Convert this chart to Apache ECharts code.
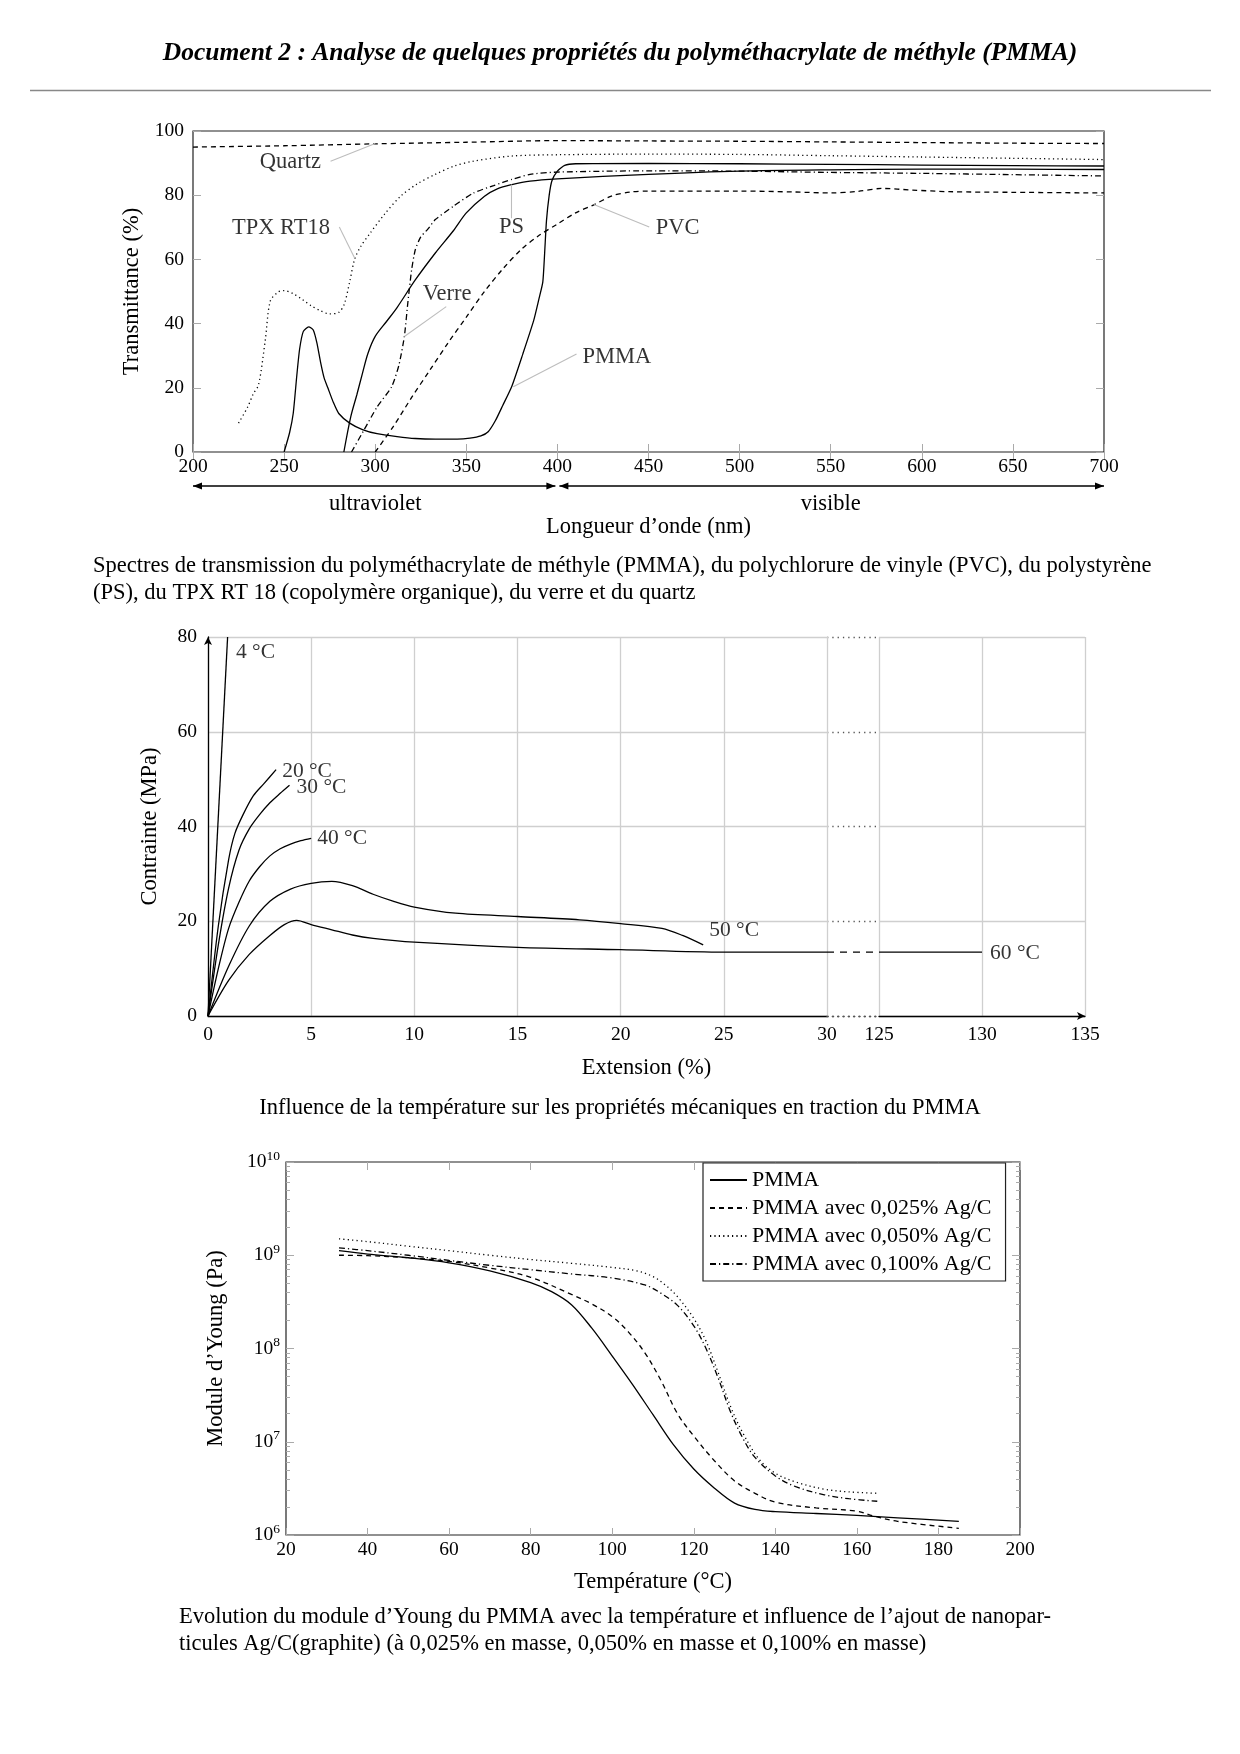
<!DOCTYPE html>
<html><head><meta charset="utf-8">
<script src="https://cdn.jsdelivr.net/npm/echarts@6/dist/echarts.min.js"></script>
<style>html,body{margin:0;padding:0;background:#fff}#c{width:1240px;height:1754px}</style>
</head><body><div id="c"></div>
<script>
// ================= Chart 1 : transmission spectra =================
const wlTicks = [200, 250, 300, 350, 400, 450, 500, 550, 600, 650, 700];
const quartz = [[200,95],[250,95.4],[300,96],[350,96.5],[400,97],[450,96.9],[500,96.8],[550,96.6],[600,96.4],[650,96.2],[700,96.1]];
const tpx = [[225,9],[230,14],[233,18],[236,21],[239.7,35],[242.4,47],[246.6,49.8],[250,50.3],[255,49.3],[260,47.5],[265,45.5],[270,44],[275,43],[280,43.5],[283,46],[286,53],[288.7,60],[292,64],[297,68],[305,74],[314,79.7],[323,83.5],[333,86.5],[343,89],[354,90.6],[375,92.2],[400,92.6],[450,92.8],[500,92.7],[550,92.3],[600,91.9],[650,91.5],[700,91.1]];
const pmmaT = [[250,0],[253,6],[255,12],[257,24],[258.5,32],[260.5,37.5],[263.5,39],[266,38],[268,34],[270,28],[272,23],[274,20],[277,15.5],[280,12],[286,9],[293,7],[301,5.7],[312,4.8],[322,4.2],[333,4],[345,4],[352,4.3],[358,5],[362,6.3],[366,9.8],[370,14.5],[375,20.5],[381,30.5],[387,41],[390,48],[392,53],[393,62],[394,72],[395.5,80],[397,84.5],[400,87.5],[404,89.3],[410,89.8],[450,89.9],[500,89.8],[550,89.6],[600,89.4],[650,89.2],[700,89.1]];
const psT = [[282.8,0],[286.6,11],[290,18],[293,24.5],[296,30.7],[300,36],[306,40.5],[312,45],[322,53.6],[333,62],[343,69],[350,74.5],[360,79.7],[367,82],[375,83.3],[385,84.4],[400,85.1],[450,86.5],[500,87.5],[550,87.9],[600,88.1],[650,88.1],[700,88]];
const verreT = [[287,0],[294,7],[301,14],[309,20.3],[313,27],[316,36],[318,47],[320,56.8],[322,63],[325,67],[329,69.5],[333,72.4],[343,76.6],[354,80.7],[365,83],[375,84.9],[385,86.5],[400,87.2],[450,87.6],[500,87.5],[550,87.1],[600,86.8],[650,86.4],[700,86]];
const pvcT = [[300,0],[310,8],[320,17],[330,25.5],[340,34],[350,42],[360,50],[370,57],[380,63],[390,67.5],[400,71],[410,74.5],[420,77],[430,79.8],[440,81],[450,81.3],[500,81.3],[530,81],[550,80.7],[565,81.2],[578,82.1],[595,81.6],[615,81.1],[650,80.9],[700,80.7]];
// annotations: [text, textX, textY, leaderFromX, leaderFromY, leaderToX, leaderToY]
const specNotes = [
  ['Quartz', 253.4, 90.3, 275.5, 90.6, 300, 96.1],
  ['TPX RT18', 248.3, 69.8, 280.3, 70.1, 288.7, 60.4],
  ['PS', 374.8, 70.1, 374.8, 72.8, 374.8, 83.3],
  ['PVC', 466, 69.8, 450.4, 70.1, 420, 77.1],
  ['Verre', 339.5, 49.3, 339, 45.3, 316, 36],
  ['PMMA', 432.6, 29.5, 410.5, 30.5, 375.8, 20.3]
];

// ================= Chart 2 : stress-strain =================
const extTicksLeft = [0, 5, 10, 15, 20, 25, 30];
const extTicksRight = [125, 130, 135];
const c4 = [[0,0],[0.95,80]];
const c20 = [[0,0],[0.5,19],[1,33],[1.3,38.5],[1.7,42.5],[2.2,46.5],[2.7,49],[3.3,52]];
const c30 = [[0,0],[0.5,15],[1,27],[1.5,35],[2,39.5],[2.5,42.5],[3,45],[3.5,47],[3.95,48.7]];
const c40 = [[0,0],[0.5,10],[1,18.5],[1.5,24],[2,28.5],[2.5,31.5],[3,33.8],[3.5,35.3],[4,36.3],[4.5,37],[5,37.5]];
const c50 = [[0,0],[1,10.5],[2,19],[3,24.2],[4,26.8],[5,28],[6,28.4],[7,27.5],[8,25.7],[9,24.2],[10,23],[12,21.7],[15,21],[18,20.3],[20,19.5],[22,18.5],[23,17],[24,15]];
const c60 = [[0,0],[1,7.5],[2,13],[3,17],[3.7,19.3],[4.3,20.2],[5,19.3],[6,18.2],[7,17.1],[8,16.4],[10,15.6],[15,14.5],[20,14],[25,13.5],[30,13.5],[125,13.5],[130,13.5]];
const tempLabels = [['4 °C',2.3,76.7],['20 °C',4.8,51.7],['30 °C',5.5,48.2],['40 °C',6.5,37.4],['50 °C',25.5,18]];
const tempLabelsRight = [['60 °C',131.6,13.2]];

// ================= Chart 3 : Young's modulus =================
const tempTicks = [20, 40, 60, 80, 100, 120, 140, 160, 180, 200];
const decades = [6, 7, 8, 9];
const minorMult = [2, 3, 4, 5, 6, 7, 8, 9];
const youngNames = ['PMMA', 'PMMA avec 0,025% Ag/C', 'PMMA avec 0,050% Ag/C', 'PMMA avec 0,100% Ag/C'];
const yPMMA = [[33,1.12e9],[40,1.03e9],[50,9.4e8],[60,8.3e8],[70,6.8e8],[80,5.1e8],[85,4.1e8],[90,2.95e8],[95,1.65e8],[100,8.3e7],[105,4.1e7],[110,1.95e7],[115,9.3e6],[120,5.1e6],[125,3.2e6],[130,2.2e6],[135,1.88e6],[140,1.78e6],[150,1.7e6],[160,1.62e6],[170,1.53e6],[185,1.4e6]];
const y025 = [[33,1e9],[40,9.9e8],[50,9.4e8],[60,8.6e8],[70,7.3e8],[80,5.8e8],[90,3.8e8],[95,3e8],[100,2.2e8],[104,1.5e8],[108,9e7],[112,4.5e7],[116,2e7],[120,1.15e7],[125,6.3e6],[130,3.8e6],[135,2.8e6],[140,2.25e6],[150,1.95e6],[160,1.8e6],[164,1.6e6],[170,1.4e6],[185,1.18e6]];
const y050 = [[33,1.5e9],[40,1.4e9],[50,1.25e9],[60,1.12e9],[70,1e9],[80,9e8],[90,8.2e8],[100,7.4e8],[106,6.8e8],[110,5.9e8],[113,4.8e8],[116,3.6e8],[120,2.1e8],[123,1.2e8],[126,5.5e7],[129,2.4e7],[132,1.25e7],[136,6.5e6],[140,4.6e6],[145,3.7e6],[152,3.1e6],[158,2.9e6],[165,2.8e6]];
const y100 = [[33,1.2e9],[40,1.12e9],[50,1e9],[60,8.8e8],[70,7.8e8],[80,7e8],[90,6.3e8],[100,5.7e8],[108,4.8e8],[112,3.9e8],[116,2.9e8],[120,1.75e8],[123,1e8],[126,4.8e7],[129,2.1e7],[132,1.1e7],[135,6.8e6],[140,4.3e6],[145,3.3e6],[152,2.7e6],[158,2.45e6],[165,2.3e6]];

// ================= texts =================
const headerText = 'Document 2 : Analyse de quelques propriétés du polyméthacrylate de méthyle (PMMA)';
const caption1 = ['Spectres de transmission du polyméthacrylate de méthyle (PMMA), du polychlorure de vinyle (PVC), du polystyrène', '(PS), du TPX RT 18 (copolymère organique), du verre et du quartz'];
const caption2 = 'Influence de la température sur les propriétés mécaniques en traction du PMMA';
const caption3 = ['Evolution du module d’Young du PMMA avec la température et influence de l’ajout de nanopar-', 'ticules Ag/C(graphite) (à 0,025% en masse, 0,050% en masse et 0,100% en masse)'];

// ================= build =================
const FONT = '"Liberation Serif", "DejaVu Serif", serif';
const FS = 19.5;   // numbers
const FW = 22.5;   // words
const lbl = { fontFamily: FONT, fontSize: FS, color: '#000' };
const nameLbl = { fontFamily: FONT, fontSize: FW, color: '#000' };
const DASH = [5, 4], DOT = [1.2, 3.2], DASHDOT = [6, 3, 1.2, 3];
const tickGray = { color: '#aaa', width: 1 };
const grayGrid = { color: '#cfcfcf', width: 1.3 };
const darkDots = { color: '#555', width: 1.3, type: [1.3, 4] };

function seg(arr, lo, hi) { return arr.filter(p => p[0] >= lo && p[0] <= hi); }
function lineS(name, data, xi, yi, dash, extra) {
  return Object.assign({
    name: name, type: 'line', data: data, xAxisIndex: xi, yAxisIndex: yi,
    showSymbol: false, symbol: 'none', smooth: 0.3, silent: true,
    lineStyle: { color: '#000', width: 1.3, type: dash || 'solid' }, itemStyle: { color: '#000' }
  }, extra || {});
}
function labelS(items, xi, yi, size) {
  return { type: 'scatter', xAxisIndex: xi, yAxisIndex: yi, symbolSize: 0, silent: true,
    data: items.map(t => ({ name: t[0], value: [t[1], t[2]] })),
    label: { show: true, position: 'inside', formatter: p => p.name, fontFamily: FONT, fontSize: size, color: '#000' } };
}

const minorLog = [];
decades.forEach(d => minorMult.forEach(m => minorLog.push(d + Math.log10(m))));

const series = [];
// chart 1
series.push(lineS('Quartz', quartz, 0, 0, DASH));
series.push(lineS('TPX RT18', tpx, 0, 0, DOT));
series.push(lineS('PMMA-T', pmmaT, 0, 0, 'solid', { smooth: 0.2 }));
series.push(lineS('PS', psT, 0, 0, 'solid'));
series.push(lineS('Verre', verreT, 0, 0, DASHDOT, { smooth: 0.2 }));
series.push(lineS('PVC', pvcT, 0, 0, DASH));
specNotes.forEach(n => series.push({ type: 'line', xAxisIndex: 0, yAxisIndex: 0, symbol: 'none', silent: true,
  data: [[n[3], n[4]], [n[5], n[6]]], lineStyle: { color: '#bdbdbd', width: 1.1 } }));
series.push(labelS(specNotes, 0, 0, FW));
// chart 2
[c4, c20, c30, c40, c50, c60].forEach(c => series.push(lineS('', seg(c, 0, 30), 2, 2, 'solid', { smooth: 0.3 })));
series.push(lineS('', seg(c60, 30, 125), 3, 3, [7, 6], { smooth: false }));
series.push(lineS('', seg(c60, 125, 135), 4, 4, 'solid', { smooth: false }));
series.push(labelS(tempLabels, 2, 2, 21.5));
series.push(labelS(tempLabelsRight, 4, 4, 21.5));
// chart 3
const youngData = [yPMMA, y025, y050, y100];
const youngDash = ['solid', DASH, DOT, DASHDOT];
youngData.forEach((d, i) => series.push(lineS(youngNames[i], d, 5, 5, youngDash[i], { smooth: 0.35 })));

const mirrorX = (grid, min, max, interval, pos) => ({ gridIndex: grid, type: 'value', position: pos, min: min, max: max, interval: interval,
  axisLine: { show: false }, axisTick: { inside: true, length: 8, lineStyle: tickGray }, axisLabel: { show: false }, splitLine: { show: false } });

const option = {
  animation: false,
  backgroundColor: '#fff',
  grid: [
    { left: 193, top: 131, width: 911, height: 321, show: true, borderColor: '#222', borderWidth: 1.2, outerBoundsMode: 'none' },
    { left: 208, top: 637, width: 619, height: 379, outerBoundsMode: 'none' },
    { left: 827, top: 637, width: 52, height: 379, outerBoundsMode: 'none' },
    { left: 879, top: 637, width: 206, height: 379, outerBoundsMode: 'none' },
    { left: 286, top: 1162, width: 734, height: 373, show: true, borderColor: '#222', borderWidth: 1.2, outerBoundsMode: 'none' }
  ],
  xAxis: [
    { gridIndex: 0, type: 'value', position: 'bottom', min: wlTicks[0], max: wlTicks[wlTicks.length - 1], interval: 50,
      axisLine: { show: false }, axisTick: { inside: true, length: 8, lineStyle: tickGray },
      axisLabel: Object.assign({ margin: 5, showMinLabel: true, showMaxLabel: true }, lbl), splitLine: { show: false },
      name: 'Longueur d’onde (nm)', nameLocation: 'middle', nameGap: 64, nameTextStyle: nameLbl },
    mirrorX(0, 200, 700, 50, 'top'),
    { gridIndex: 1, type: 'value', min: extTicksLeft[0], max: extTicksLeft[extTicksLeft.length - 1], interval: 5,
      axisLine: { show: true, lineStyle: { color: '#000', width: 1.3 } }, axisTick: { show: false },
      axisLabel: Object.assign({ margin: 9, showMinLabel: true, showMaxLabel: true }, lbl), splitLine: { show: true, lineStyle: grayGrid } },
    { gridIndex: 2, type: 'value', min: 30, max: 125,
      axisLine: { show: true, lineStyle: darkDots }, axisTick: { show: false }, axisLabel: { show: false }, splitLine: { show: false } },
    { gridIndex: 3, type: 'value', min: extTicksRight[0], max: extTicksRight[extTicksRight.length - 1], interval: 5,
      axisLine: { show: true, symbol: ['none', 'arrow'], symbolSize: [6, 8], lineStyle: { color: '#000', width: 1.3 } }, axisTick: { show: false },
      axisLabel: Object.assign({ margin: 9, showMinLabel: true, showMaxLabel: true }, lbl), splitLine: { show: true, lineStyle: grayGrid } },
    { gridIndex: 4, type: 'value', position: 'bottom', min: tempTicks[0], max: tempTicks[tempTicks.length - 1], interval: 20,
      axisLine: { show: false }, axisTick: { inside: true, length: 7, lineStyle: tickGray },
      axisLabel: Object.assign({ margin: 5, showMinLabel: true, showMaxLabel: true }, lbl), splitLine: { show: false },
      name: 'Température (°C)', nameLocation: 'middle', nameGap: 36, nameTextStyle: nameLbl },
    mirrorX(4, 20, 200, 20, 'top')
  ],
  yAxis: [
    { gridIndex: 0, type: 'value', position: 'left', min: 0, max: 100, interval: 20,
      axisLine: { show: false }, axisTick: { inside: true, length: 8, lineStyle: tickGray },
      axisLabel: Object.assign({ margin: 9 }, lbl), splitLine: { show: false },
      name: 'Transmittance (%)', nameLocation: 'middle', nameGap: 49, nameRotate: 90, nameTextStyle: nameLbl },
    { gridIndex: 0, type: 'value', position: 'right', min: 0, max: 100, interval: 20,
      axisLine: { show: false }, axisTick: { inside: true, length: 8, lineStyle: tickGray }, axisLabel: { show: false }, splitLine: { show: false } },
    { gridIndex: 1, type: 'value', position: 'left', min: 0, max: 80, interval: 20,
      axisLine: { show: true, symbol: ['none', 'arrow'], symbolSize: [6, 8], lineStyle: { color: '#000', width: 1.3 } }, axisTick: { show: false },
      axisLabel: Object.assign({ margin: 11 }, lbl), splitLine: { show: true, lineStyle: grayGrid },
      name: 'Contrainte (MPa)', nameLocation: 'middle', nameGap: 46.5, nameRotate: 90, nameTextStyle: nameLbl },
    { gridIndex: 2, type: 'value', min: 0, max: 80, interval: 20,
      axisLine: { show: false }, axisTick: { show: false }, axisLabel: { show: false }, splitLine: { show: true, lineStyle: darkDots } },
    { gridIndex: 3, type: 'value', min: 0, max: 80, interval: 20,
      axisLine: { show: false }, axisTick: { show: false }, axisLabel: { show: false }, splitLine: { show: true, lineStyle: grayGrid } },
    { gridIndex: 4, type: 'log', logBase: 10, position: 'left', min: 1e6, max: 1e10,
      axisLine: { show: false }, axisTick: { inside: true, length: 8, lineStyle: tickGray },
      axisLabel: Object.assign({ margin: 6, lineHeight: 26,
        formatter: v => '10{s|' + Math.round(Math.log10(v)) + '}',
        rich: { s: { fontFamily: FONT, fontSize: 13.5, verticalAlign: 'top', lineHeight: 14, color: '#000' } } }, lbl),
      splitLine: { show: false },
      name: 'Module d’Young (Pa)', nameLocation: 'middle', nameGap: 58.5, nameRotate: 90, nameTextStyle: nameLbl },
    { gridIndex: 4, type: 'log', logBase: 10, position: 'right', min: 1e6, max: 1e10,
      axisLine: { show: false }, axisTick: { inside: true, length: 8, lineStyle: tickGray }, axisLabel: { show: false }, splitLine: { show: false } },
    { gridIndex: 4, type: 'value', position: 'left', min: 6, max: 10,
      axisLine: { show: false }, axisTick: { inside: true, length: 4, lineStyle: tickGray, customValues: minorLog },
      axisLabel: { show: false }, splitLine: { show: false } },
    { gridIndex: 4, type: 'value', position: 'right', min: 6, max: 10,
      axisLine: { show: false }, axisTick: { inside: true, length: 4, lineStyle: tickGray, customValues: minorLog },
      axisLabel: { show: false }, splitLine: { show: false } }
  ],
  legend: {
    data: youngNames, orient: 'vertical', left: 703, top: 1163, selectedMode: false,
    backgroundColor: '#fff', borderColor: '#222', borderWidth: 1.2, borderRadius: 0,
    padding: [6, 14, 6, 6], itemWidth: 37, itemHeight: 14, itemGap: 6,
    itemStyle: { opacity: 0 },
    textStyle: { fontFamily: FONT, fontSize: 22, color: '#000', lineHeight: 21 }
  },
  series: series
};

const chart = echarts.init(document.getElementById('c'), null, { renderer: 'canvas', width: 1240, height: 1754 });
chart.setOption(option);

// ---- decorations positioned through the axes ----
const p200 = chart.convertToPixel({ gridIndex: 0 }, [200, 0]);
const p400 = chart.convertToPixel({ gridIndex: 0 }, [400, 0]);
const p700 = chart.convertToPixel({ gridIndex: 0 }, [700, 0]);
const p300 = chart.convertToPixel({ gridIndex: 0 }, [300, 0]);
const p550 = chart.convertToPixel({ gridIndex: 0 }, [550, 0]);
const ay = p200[1] + 34;
const ext0 = chart.convertToPixel({ gridIndex: 1 }, [0, 0]);
const ext135 = chart.convertToPixel({ gridIndex: 3 }, [135, 0]);

function txt(t, x, y, font, align) {
  return { type: 'text', x: x, y: y, silent: true,
    style: { text: t, font: font, fill: '#000', align: align || 'center', textAlign: align || 'center', verticalAlign: 'middle', textVerticalAlign: 'middle' } };
}
function arrowHead(x, y, dir) {
  return { type: 'polygon', silent: true, shape: { points: [[x, y], [x - dir * 9, y - 3.5], [x - dir * 9, y + 3.5]] }, style: { fill: '#000' } };
}
const FC = '22.5px ' + FONT;
const graphics = [
  txt(headerText, 620, 53, 'italic bold 25.5px ' + FONT),
  { type: 'line', silent: true, shape: { x1: 30, y1: 90.5, x2: 1211, y2: 90.5 }, style: { stroke: '#888', lineWidth: 1.5 } },
  { type: 'line', silent: true, shape: { x1: p200[0], y1: ay, x2: p400[0] - 2, y2: ay }, style: { stroke: '#000', lineWidth: 1.3 } },
  { type: 'line', silent: true, shape: { x1: p400[0] + 2, y1: ay, x2: p700[0], y2: ay }, style: { stroke: '#000', lineWidth: 1.3 } },
  arrowHead(p200[0], ay, -1), arrowHead(p400[0] - 2, ay, 1), arrowHead(p400[0] + 2, ay, -1), arrowHead(p700[0], ay, 1),
  txt('ultraviolet', p300[0], ay + 18.5, FC),
  txt('visible', p550[0], ay + 18.5, FC),
  txt(caption1[0], 93, 566, FC, 'left'),
  txt(caption1[1], 93, 593, FC, 'left'),
  txt('Extension (%)', (ext0[0] + ext135[0]) / 2, 1068, FC),
  txt(caption2, 620, 1108, FC),
  txt(caption3[0], 179, 1617, FC, 'left'),
  txt(caption3[1], 179, 1644, FC, 'left')
];
chart.setOption({ graphic: graphics });
</script>
</body></html>
